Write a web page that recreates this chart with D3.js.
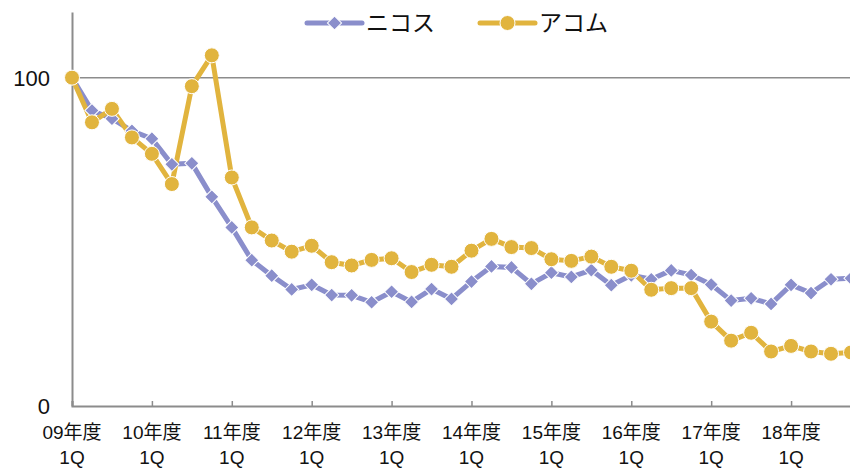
<!DOCTYPE html>
<html><head><meta charset="utf-8">
<script src="https://cdn.jsdelivr.net/npm/d3@7"></script>
<style>
html,body{margin:0;padding:0;background:#fff;overflow:hidden;}
text{font-family:"Liberation Sans","Noto Sans CJK JP",sans-serif;}
</style></head>
<body><svg id="c" width="850" height="468"></svg>
<script>
const years = ["09","10","11","12","13","14","15","16","17","18"];
const quarters = ["1Q","2Q","3Q","4Q"];
const categories = [];
years.forEach(y => quarters.forEach(q => categories.push(y + "年度 " + q)));
const yearTickLabels = years.map(y => y + "年度");
const nicos = [100,90.0,87.5,83.8,81.4,73.6,73.9,63.7,54.4,44.4,39.7,35.5,36.9,33.8,33.7,31.6,34.8,31.7,35.6,32.6,37.9,42.5,42.2,37.2,40.6,39.3,41.4,36.8,39.8,38.6,41.3,39.9,37.0,32.1,32.8,31.1,36.9,34.4,38.6,38.9];
const acom = [100,86.4,90.5,81.8,76.8,67.6,97.4,106.8,69.6,54.4,50.4,47.0,48.8,43.8,42.8,44.5,45.0,40.8,43.0,42.4,47.3,50.9,48.4,48.1,44.7,44.2,45.5,42.4,41.2,35.4,35.9,35.9,25.7,19.9,22.3,16.6,18.3,16.6,15.9,16.3];
const seriesNames = ["ニコス","アコム"];
const colors = ["#8a8ecb","#e1b43e"];
const yTicks = [0,100];

const svg = d3.select("#c");
const x = d3.scaleLinear().domain([0, categories.length-1]).range([72, 851]);
const y = d3.scaleLinear().domain([0,120]).range([406, 12]);

// gridline at 100
svg.append("g").selectAll("line").data(yTicks.filter(d=>d>0)).join("line")
  .attr("x1",72).attr("x2",850).attr("y1",d=>y(d)).attr("y2",d=>y(d))
  .attr("stroke","#8c8c8c").attr("stroke-width",1.5);

// y axis
const ya = svg.append("g").attr("transform","translate(72,0)")
  .call(d3.axisLeft(y).tickValues(yTicks).tickSize(0).tickPadding(22));
ya.select(".domain").attr("stroke","#8c8c8c").attr("stroke-width",2);
ya.selectAll("text").attr("font-size",22).attr("fill","#111")
  .attr("font-family",'"Liberation Sans",sans-serif')
  .attr("dy", "0.35em");

// x axis
const yearIdx = years.map((_,i)=>i*4);
const xa = svg.append("g").attr("transform","translate(0,406)")
  .call(d3.axisTop(x).tickValues(yearIdx).tickSize(5).tickFormat(""));
xa.select(".domain").attr("stroke","#8c8c8c").attr("stroke-width",2);
xa.selectAll(".tick line").attr("stroke","#8c8c8c").attr("stroke-width",1.5);
const xl = svg.append("g").selectAll("text").data(yearIdx).join("text")
  .attr("x",d=>x(d)).attr("text-anchor","middle").attr("font-size",19).attr("fill","#111");
xl.append("tspan").attr("x",d=>x(d)).attr("y",439).text((d,i)=>yearTickLabels[i]);
xl.append("tspan").attr("x",d=>x(d)).attr("y",464).text(d=>categories[d].split(" ")[1]);

// lines
const line = d3.line().x((d,i)=>x(i)).y(d=>y(d));
const series = [nicos, acom];
const g = svg.append("g");
series.forEach((s,k)=>{
  g.append("path").datum(s).attr("d",line).attr("fill","none")
    .attr("stroke",colors[k]).attr("stroke-width",5).attr("stroke-linejoin","round");
});
// markers
g.append("g").selectAll("path").data(nicos).join("path")
  .attr("d",d3.symbol().type(d3.symbolSquare).size(100))
  .attr("transform",(d,i)=>`translate(${x(i)},${y(d)}) rotate(45)`)
  .attr("fill",colors[0]).attr("stroke","#fff").attr("stroke-width",1);
g.append("g").selectAll("circle").data(acom).join("circle")
  .attr("cx",(d,i)=>x(i)).attr("cy",d=>y(d)).attr("r",7.5)
  .attr("fill",colors[1]).attr("stroke","#fff").attr("stroke-width",1);

// legend
const leg = svg.append("g");
const legItems = [{x0:307,tx:366},{x0:480,tx:539}];
legItems.forEach((L,k)=>{
  leg.append("line").attr("x1",L.x0).attr("x2",L.x0+55).attr("y1",23).attr("y2",23)
    .attr("stroke",colors[k]).attr("stroke-width",5).attr("stroke-linecap","round");
  if(k===0){
    leg.append("path").attr("d",d3.symbol().type(d3.symbolSquare).size(100))
      .attr("transform",`translate(${L.x0+27.5},23) rotate(45)`)
      .attr("fill",colors[0]).attr("stroke","#fff").attr("stroke-width",1);
  } else {
    leg.append("circle").attr("cx",L.x0+27.5).attr("cy",23).attr("r",7.5)
      .attr("fill",colors[1]).attr("stroke","#fff").attr("stroke-width",1);
  }
  leg.append("text").attr("x",L.tx).attr("y",31).attr("font-size",23).attr("fill","#111")
    .attr("font-family",'"Noto Sans CJK JP",sans-serif').text(seriesNames[k]);
});
</script></body></html>
